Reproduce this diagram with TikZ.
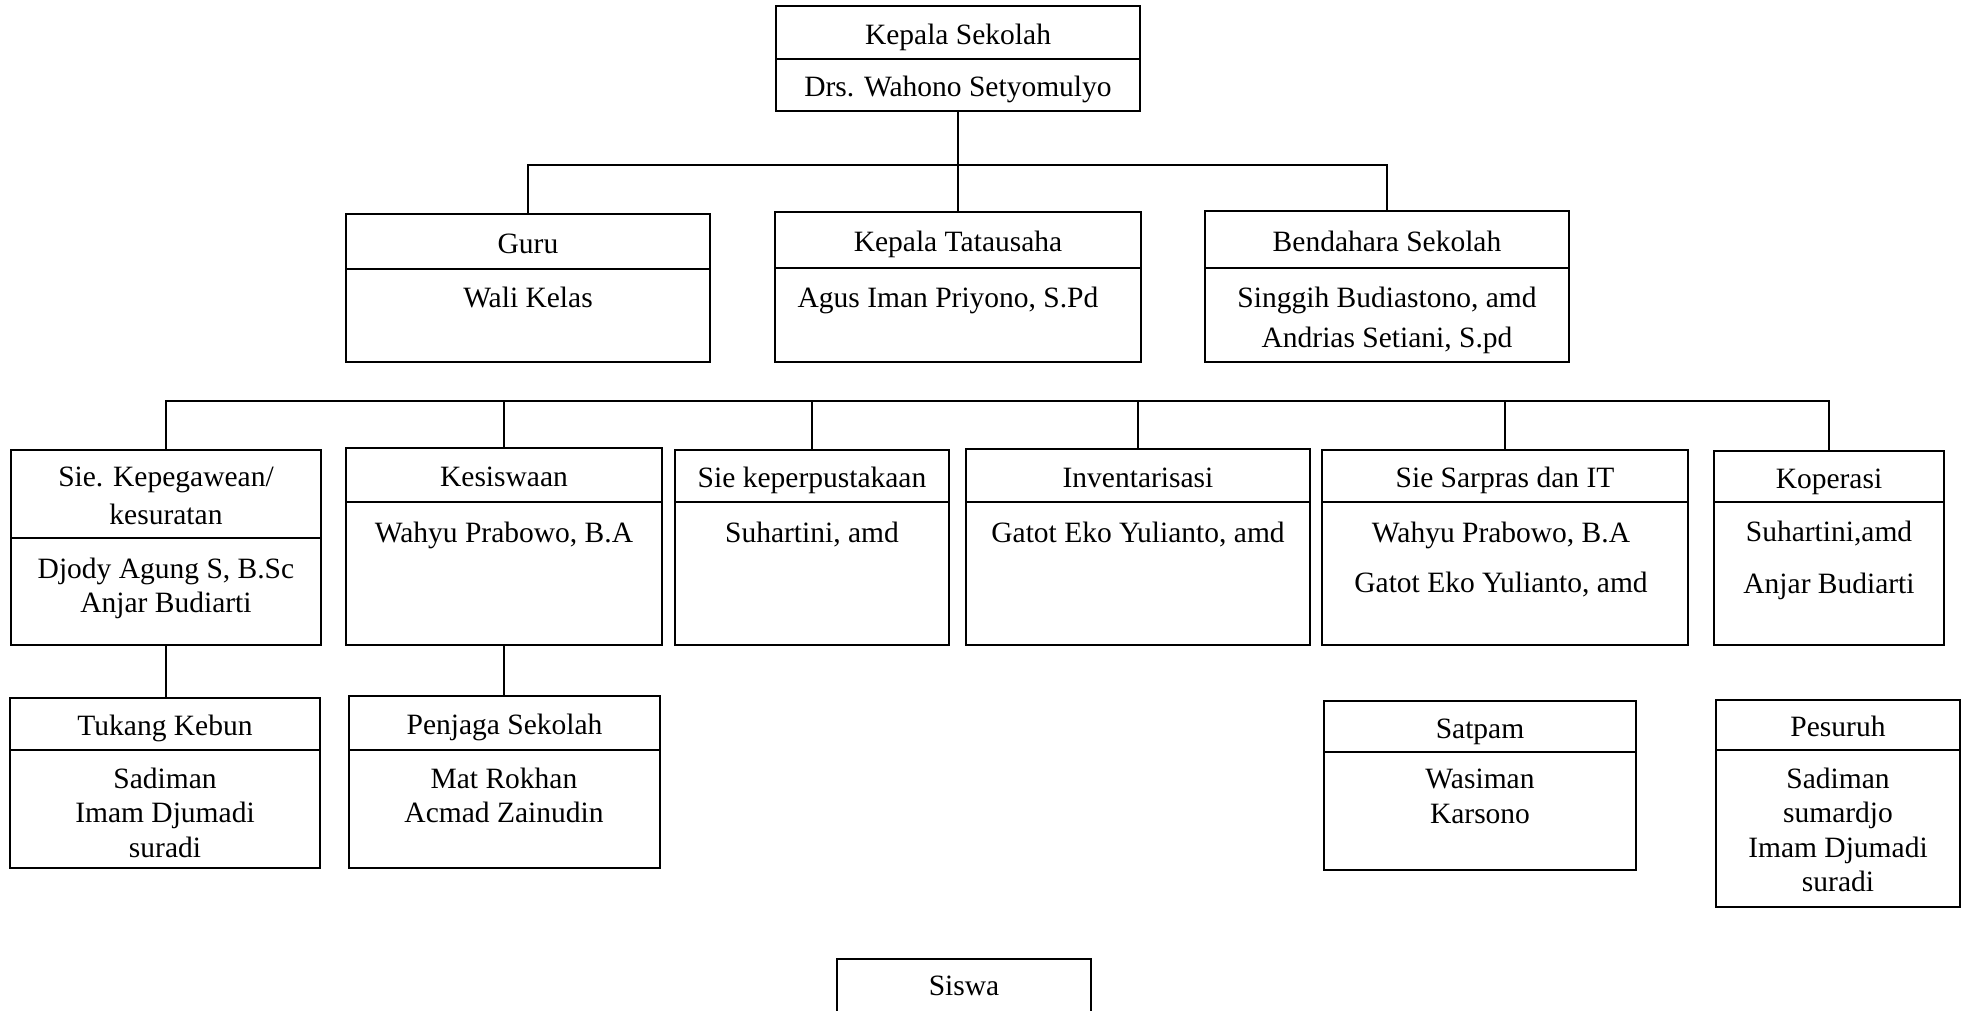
\documentclass[tikz,border=0pt]{standalone}
\usepackage{fontspec}
\setmainfont{Liberation Serif}
\newcommand{\hdrfont}{\fontsize{29.5}{36}\selectfont}
\newcommand{\bodyfont}{\fontsize{29.5}{34.5}\selectfont}
\tikzset{
  lw/.style={line width=2pt},
  hdrbox/.style={draw, lw, anchor=north west, inner sep=0pt, outer sep=0pt, align=center, font=\hdrfont, text=black, text height=27pt, text depth=4pt},
  bodybox/.style={draw, lw, anchor=north west, inner sep=0pt, outer sep=0pt},
  bodytxt/.style={anchor=north, inner sep=0pt, outer sep=0pt, align=center, font=\bodyfont, text=black},
  conn/.style={lw, draw=black}
}
% name, xleft, xright, ytop, ydivider, ybottom, header
\newcommand{\obox}[7]{%
  \node[hdrbox, minimum width={(#3-#2)*1pt}, minimum height={(#5-#4)*1pt}] (#1) at (#2,#4) {#7};
  \node[bodybox, minimum width={(#3-#2)*1pt}, minimum height={(#6-#5)*1pt}] (#1b) at (#2,#5) {};
}
\begin{document}
\begin{tikzpicture}[x=1pt,y=-1pt]
\useasboundingbox (0,0) rectangle (1965,1010);
\clip (0,0) rectangle (1965,1010);
\fill[white] (0,0) rectangle (1965,1010);

% top
\obox{ks}{776}{1140}{6}{59}{111}{Kepala Sekolah}
\node[bodytxt] (ksT) at (958,76) {Drs. Wahono Setyomulyo};

% row 1
\obox{guru}{346}{710}{214}{269}{362}{Guru}
\node[bodytxt] (guruT) at (528,287) {Wali Kelas};
\obox{ktu}{775}{1141}{212}{268}{362}{Kepala Tatausaha}
\node[bodytxt] (ktuT) at (948,287) {Agus Iman Priyono, S.Pd};
\obox{bend}{1205}{1569}{211}{268}{362}{Bendahara Sekolah}
\node[bodytxt] (bendT) at (1387,287) {Singgih Budiastono, amd\\[5.5pt]Andrias Setiani, S.pd};

% row 2
\obox{kep}{11}{321}{450}{538}{645}{}
\node[bodytxt, font=\hdrfont] (kepH) at (166,467) {Sie. Kepegawean/\\[2pt]kesuratan};
\node[bodytxt] (kepT) at (166,558) {Djody Agung S, B.Sc\\Anjar Budiarti};
\obox{kes}{346}{662}{448}{502}{645}{Kesiswaan}
\node[bodytxt] (kesT) at (504,522) {Wahyu Prabowo, B.A};
\obox{pus}{675}{949}{450}{502}{645}{Sie keperpustakaan}
\node[bodytxt] (pusT) at (812,522) {Suhartini, amd};
\obox{inv}{966}{1310}{449}{502}{645}{Inventarisasi}
\node[bodytxt] (invT) at (1138,522) {Gatot Eko Yulianto, amd};
\obox{sar}{1322}{1688}{450}{502}{645}{Sie Sarpras dan IT}
\node[bodytxt] (sarT) at (1501,522) {Wahyu Prabowo, B.A\\[15.5pt]Gatot Eko Yulianto, amd};
\obox{kop}{1714}{1944}{451}{502}{645}{Koperasi}
\node[bodytxt] (kopT) at (1829,521) {Suhartini,amd\\[18pt]Anjar Budiarti};

% row 3
\obox{tuk}{10}{320}{698}{750}{868}{Tukang Kebun}
\node[bodytxt] (tukT) at (165,768) {Sadiman\\Imam Djumadi\\suradi};
\obox{pen}{349}{660}{696}{750}{868}{Penjaga Sekolah}
\node[bodytxt] (penT) at (504,768) {Mat Rokhan\\Acmad Zainudin};
\obox{sat}{1324}{1636}{701}{752}{870}{Satpam}
\node[bodytxt] (satT) at (1480,769) {Wasiman\\Karsono};
\obox{pes}{1716}{1960}{700}{750}{907}{Pesuruh}
\node[bodytxt] (pesT) at (1838,768) {Sadiman\\sumardjo\\Imam Djumadi\\suradi};

% siswa (cut by the page edge)
\node[hdrbox, minimum width=254pt, minimum height=90pt] (siswa) at (837,959) {};
\node[bodytxt] (siswaT) at (964,976) {Siswa};

% connectors
\coordinate (j1) at (958,165);
\draw[conn] (ksb.south) -- (j1);
\draw[conn] (guru.north) |- (j1) -| (bend.north);
\draw[conn] (ktu.north) -- (ktu.north |- j1);

\coordinate (r2) at (166,401);
\draw[conn] (kep.north) |- (r2) -| (kop.north);
\draw[conn] (kes.north) -- (kes.north |- r2);
\draw[conn] (pus.north) -- (pus.north |- r2);
\draw[conn] (inv.north) -- (inv.north |- r2);
\draw[conn] (sar.north) -- (sar.north |- r2);

\draw[conn] (kepb.south) -- (kepb.south |- tuk.north);
\draw[conn] (kesb.south) -- (kesb.south |- pen.north);
\end{tikzpicture}
\end{document}
